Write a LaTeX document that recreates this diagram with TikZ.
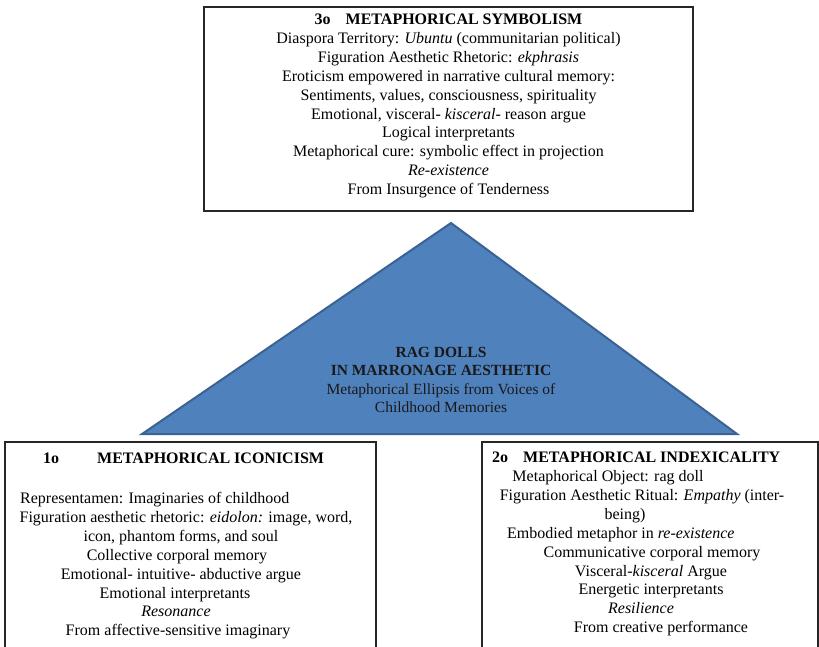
\documentclass[tikz,border=0pt]{standalone}
\usepackage{fontspec}
\setmainfont{Liberation Serif}
\definecolor{triblue}{HTML}{4F81BD}
\definecolor{triedge}{HTML}{3A6293}
\begin{document}
\begin{tikzpicture}[x=1pt,y=-1pt,
  txt/.style={inner sep=0pt, anchor=base, font=\fontsize{16}{19}\selectfont},
  txtw/.style={txt, anchor=base west},
  tritxt/.style={inner sep=0pt, anchor=base, text=black!90, font=\fontsize{15.5}{18}\selectfont},
  boxline/.style={draw=black!85, line width=1.4pt},
  trishape/.style={fill=triblue, draw=triedge, line width=2pt, line join=miter},
]
\useasboundingbox (0,0) rectangle (819,646);
\fill[white] (0,0) rectangle (819,646);

% top box
\draw[boxline] (204,7) rectangle (693,211);
\node[txt] (t0) at (448.5,24.5) {\textbf{3o\hspace{15pt}METAPHORICAL SYMBOLISM}};
\node[txt] (t1) at (448.5,43.4) {Diaspora Territory: \textit{Ubuntu} (communitarian political)};
\node[txt] (t2) at (448.5,62.3) {Figuration Aesthetic Rhetoric: \textit{ekphrasis}};
\node[txt] (t3) at (448.5,81.2) {Eroticism empowered in narrative cultural memory:};
\node[txt] (t4) at (448.5,100.1) {Sentiments, values, consciousness, spirituality};
\node[txt] (t5) at (448.5,119.0) {Emotional, visceral- \textit{kisceral}- reason argue};
\node[txt] (t6) at (448.5,137.9) {Logical interpretants};
\node[txt] (t7) at (448.5,156.8) {Metaphorical cure: symbolic effect in projection};
\node[txt] (t8) at (448.5,175.7) {\textit{Re-existence}};
\node[txt] (t9) at (448.5,194.6) {From Insurgence of Tenderness};

% triangle
\coordinate (apex) at (451,223);
\coordinate (bl) at (142,434);
\coordinate (br) at (737,434);
\draw[trishape] (bl) -- (apex) -- (br) -- cycle;
\node[tritxt] (g0) at (441,357.5) {\textbf{RAG DOLLS}};
\node[tritxt] (g1) at (441,375.5) {\textbf{IN MARRONAGE AESTHETIC}};
\node[tritxt] (g2) at (441,394.5) {Metaphorical Ellipsis from Voices of};
\node[tritxt] (g3) at (441,412.5) {Childhood Memories};

% left box
\draw[boxline] (5,647) -- (5,442) -- (376,442) -- (376,647);
\node[txtw] (l0) at (43,463.5) {\textbf{1o\hspace{38pt}METAPHORICAL ICONICISM}};
\node[txtw] (l1) at (20,503.5) {Representamen: Imaginaries of childhood};
\node[txt] (l2) at (186,522.4) {Figuration aesthetic rhetoric: \textit{eidolon:} image, word,};
\node[txt] (l3) at (181,541.3) {icon, phantom forms, and soul};
\node[txt] (l4) at (177,560.2) {Collective corporal memory};
\node[txt] (l5) at (181,579.1) {Emotional- intuitive- abductive argue};
\node[txt] (l6) at (175,598.0) {Emotional interpretants};
\node[txt] (l7) at (176,616.9) {\textit{Resonance}};
\node[txt] (l8) at (178,635.8) {From affective-sensitive imaginary};

% right box
\draw[boxline] (482,647) -- (482,442) -- (818,442) -- (818,647);
\node[txtw] (r0) at (492,462.5) {\textbf{2o\hspace{15pt}METAPHORICAL INDEXICALITY}};
\node[txt] (r1) at (608,481.5) {Metaphorical Object: rag doll};
\node[txt] (r2) at (642,500.4) {Figuration Aesthetic Ritual: \textit{Empathy} (inter-};
\node[txt] (r3) at (625,519.3) {being)};
\node[txtw] (r4) at (507,538.2) {Embodied metaphor in \textit{re-existence}};
\node[txt] (r5) at (652,557.1) {Communicative corporal memory};
\node[txt] (r6) at (651,576.0) {Visceral-\textit{kisceral} Argue};
\node[txt] (r7) at (651,594.9) {Energetic interpretants};
\node[txt] (r8) at (641,613.8) {\textit{Resilience}};
\node[txt] (r9) at (661,632.7) {From creative performance};
\end{tikzpicture}
\end{document}
